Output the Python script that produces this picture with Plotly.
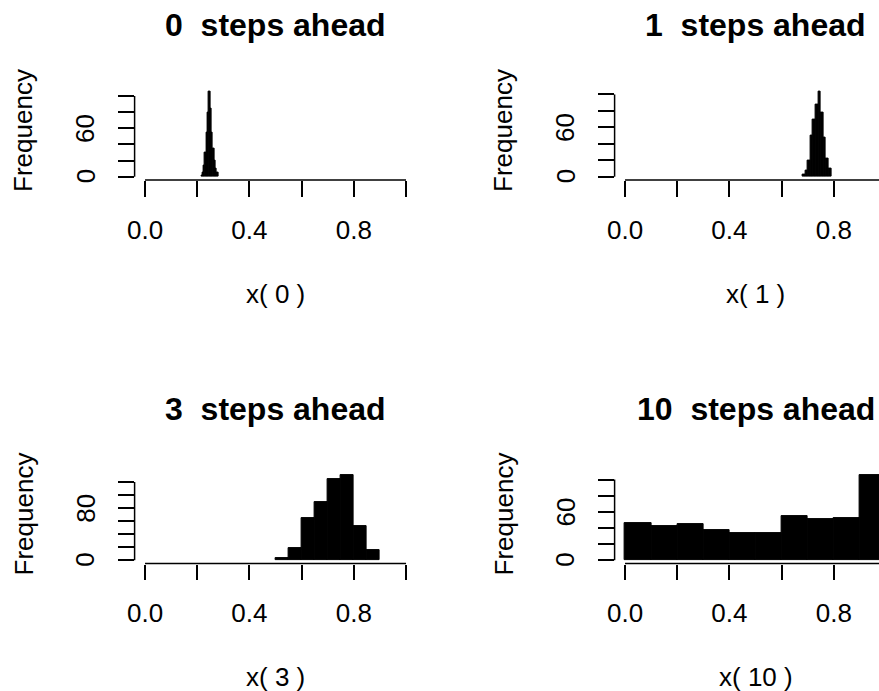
import plotly.graph_objects as go

# Histogram data: distribution of x(t) after a number of steps
steps = [0, 1, 3, 10]
bin_width = [0.005, 0.01, 0.05, 0.1]
bin_start = [0.215, 0.68, 0.50, 0.0]
counts_0 = [1, 5, 14, 30, 55, 80, 105, 85, 55, 35, 20, 10, 5]
counts_1 = [3, 8, 20, 50, 70, 88, 103, 78, 48, 22, 10]
counts_3 = [4, 19, 64, 89, 125, 130, 53, 16]
counts_10 = [46, 42, 45, 37, 34, 33, 55, 51, 52, 105]

x_tick_vals = [0.0, 0.2, 0.4, 0.6, 0.8, 1.0]
x_tick_text = ["0.0", "", "0.4", "", "0.8", ""]
y_tick_vals_0 = [0, 20, 40, 60, 80, 100]
y_tick_text_0 = ["0", "", "", "60", "", ""]
y_tick_vals_1 = [0, 20, 40, 60, 80, 100]
y_tick_text_1 = ["0", "", "", "60", "", ""]
y_tick_vals_3 = [0, 20, 40, 60, 80, 100, 120]
y_tick_text_3 = ["0", "", "", "", "80", "", ""]
y_tick_vals_10 = [0, 20, 40, 60, 80, 100]
y_tick_text_10 = ["0", "", "", "60", "", ""]

all_counts = [counts_0, counts_1, counts_3, counts_10]
all_ytv = [y_tick_vals_0, y_tick_vals_1, y_tick_vals_3, y_tick_vals_10]
all_ytt = [y_tick_text_0, y_tick_text_1, y_tick_text_3, y_tick_text_10]

# Page geometry (pixels)
W, H = 879, 691
UNIT_PX = 261.0            # pixels per unit on the x axis
PLOT_H = 91.5              # plot region height
COL_LEFT = [134.6, 614.6]  # left edge of plot region per column
ROW_TOP = [88.6, 472.1]    # top edge of plot region per row
EXT = 0.04                 # R-style 4% axis extension

FONT = "Liberation Sans, Arial, Helvetica, sans-serif"
LAB_SIZE = 26
MAIN_SIZE = 32
LW = 1.5
TICKLEN = 15.5

fig = go.Figure()
shapes = []
annotations = []


def label(text, **kw):
    font = kw.pop("font", dict(family=FONT, size=LAB_SIZE, color="black"))
    return dict(text=text, showarrow=False, xanchor="center",
                yanchor="middle", font=font, **kw)


for i, (st, bw, b0, cnt, ytv, ytt) in enumerate(
        zip(steps, bin_width, bin_start, all_counts, all_ytv, all_ytt)):
    row, col = divmod(i, 2)
    ax = "" if i == 0 else str(i + 1)
    xname, yname = "x" + ax, "y" + ax

    left = COL_LEFT[col]
    right_full = left + (1 + 2 * EXT) * UNIT_PX
    right = min(right_full, W)
    xr = [-EXT, -EXT + (right - left) / UNIT_PX]
    top = ROW_TOP[row]
    bottom = top + PLOT_H
    ymax = max(cnt)
    yr = [-EXT * ymax, (1 + EXT) * ymax]

    xdom = [left / W, right / W]
    ydom = [1 - bottom / H, 1 - top / H]

    centers = [b0 + bw * (k + 0.5) for k in range(len(cnt))]
    fig.add_trace(go.Bar(
        x=centers, y=cnt, width=[bw] * len(cnt),
        marker=dict(color="black", line=dict(color="black", width=1)),
        xaxis=xname, yaxis=yname, showlegend=False, hoverinfo="skip",
    ))

    common = dict(showgrid=False, zeroline=False, showline=False,
                  ticks="outside", ticklen=TICKLEN, tickwidth=LW,
                  tickcolor="black", automargin=False,
                  tickfont=dict(family=FONT, size=LAB_SIZE, color="black"),
                  fixedrange=True)
    fig.layout["xaxis" + ax] = dict(
        domain=xdom, range=xr, anchor=yname,
        tickmode="array", tickvals=x_tick_vals, ticktext=x_tick_text,
        ticklabelstandoff=11, **common)
    fig.layout["yaxis" + ax] = dict(
        domain=ydom, range=yr, anchor=xname,
        tickmode="array", tickvals=ytv, showticklabels=False, **common)

    # y tick labels, written parallel to the axis
    for v, t in zip(ytv, ytt):
        if t:
            annotations.append(label(
                t, xref=xname + " domain", x=0, xshift=-49,
                yref=yname, y=v, textangle=-90))

    # helpers mapping data values to paper fractions
    def px_x(v, left=left):
        return (left + (v + EXT) * UNIT_PX) / W

    def py_y(v, bottom=bottom, yr=yr):
        return 1 - (bottom - (v - yr[0]) / (yr[1] - yr[0]) * PLOT_H) / H

    # axis lines spanning the tick range only
    shapes.append(dict(type="line", xref="paper", yref="paper",
                       x0=px_x(x_tick_vals[0]), x1=px_x(x_tick_vals[-1]),
                       y0=ydom[0], y1=ydom[0],
                       line=dict(color="black", width=LW)))
    shapes.append(dict(type="line", xref="paper", yref="paper",
                       x0=xdom[0], x1=xdom[0],
                       y0=py_y(ytv[0]), y1=py_y(ytv[-1]),
                       line=dict(color="black", width=LW)))

    # main title, x label, y label
    annotations.append(label(
        "<b>%d  steps ahead</b>" % st, xref=xname, x=0.5,
        yref=yname + " domain", y=1, yshift=63.6,
        font=dict(family=FONT, size=MAIN_SIZE, color="black")))
    annotations.append(label(
        "x( %d )" % st, xref=xname, x=0.5,
        yref=yname + " domain", y=0, yshift=-113.5))
    annotations.append(label(
        "Frequency", xref=xname + " domain", x=0, xshift=-111,
        yref=yname + " domain", y=0.5, yshift=4, textangle=-90))

fig.update_layout(
    template="none",
    width=W, height=H, autosize=False,
    margin=dict(l=0, r=0, t=0, b=0, pad=0),
    paper_bgcolor="white", plot_bgcolor="white",
    bargap=0, barmode="overlay",
    font=dict(family=FONT, color="black"),
    shapes=shapes, annotations=annotations,
)

fig.write_html("out.html", config={"displayModeBar": False})
